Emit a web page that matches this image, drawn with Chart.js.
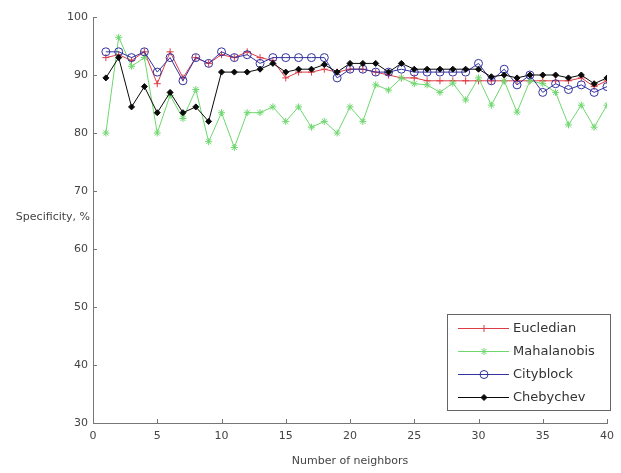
<!DOCTYPE html>
<html>
<head>
<meta charset="utf-8">
<script src="https://cdn.jsdelivr.net/npm/chart.js@4/dist/chart.umd.min.js"></script>
<style>
  html, body { margin: 0; padding: 0; background: #fff; }
  #wrap { width: 621px; height: 473px; }
</style>
</head>
<body>
<div id="wrap"><canvas id="myChart"></canvas></div>
<script>
const neighbors = [1, 2, 3, 4, 5, 6, 7, 8, 9, 10, 11, 12, 13, 14, 15, 16, 17, 18, 19, 20,
    21, 22, 23, 24, 25, 26, 27, 28, 29, 30, 31, 32, 33, 34, 35, 36, 37, 38, 39, 40]

const eucledian = [93, 93.5, 92.5, 94, 88.5, 94, 89.5, 93, 92, 93.5, 93, 94, 93, 92.5, 89.5, 90.5, 90.5, 91, 90.5, 91,
    91, 90.5, 90, 89.5, 89.5, 89, 89, 89, 89, 89, 89, 89, 89, 89, 89, 89, 89, 89.5, 88, 89]
const mahalanobis = [80, 96.5, 91.5, 93, 80, 86.5, 82.5, 87.5, 78.5, 83.5, 77.5, 83.5, 83.5, 84.5, 82, 84.5, 81, 82, 80, 84.5,
    82, 88.3, 87.4, 89.5, 88.5, 88.3, 87, 88.6, 85.7, 89.5, 84.8, 89, 83.6, 89, 88.5, 87, 81.4, 84.8, 81, 84.8]
const cityblock = [94, 94, 93, 94, 90.5, 93, 89, 93, 92, 94, 93, 93.5, 92, 93, 93, 93, 93, 93, 89.5, 91,
    91, 90.5, 90.5, 91, 90.5, 90.5, 90.5, 90.5, 90.5, 92, 89, 91, 88.3, 90, 87, 88.5, 87.5, 88.3, 87, 88]
const chebychev = [89.5, 93, 84.5, 88, 83.5, 87, 83.5, 84.5, 82, 90.5, 90.5, 90.5, 91, 92, 90.5, 91, 91, 91.8, 90.5, 92,
    92, 92, 90.5, 92, 91, 91, 91, 91, 91, 91, 89.7, 90, 89.5, 90, 90, 90, 89.5, 90, 88.5, 89.5]

const xTicks = [0, 5, 10, 15, 20, 25, 30, 35, 40]
const yTicks = [30, 40, 50, 60, 70, 80, 90, 100]

function punten(waarden) {
    return neighbors.map(function (n, i) {
        return { x: n, y: waarden[i] }
    })
}

const data = {
    datasets: [{
        label: "Eucledian",
        data: punten(eucledian),
        borderColor: 'rgb(220, 60, 70)',
        backgroundColor: 'rgb(220, 60, 70)',
        pointStyle: 'cross',
        pointRadius: 3.5,
        order: 4
    }, {
        label: "Mahalanobis",
        data: punten(mahalanobis),
        borderColor: 'rgb(110, 215, 110)',
        backgroundColor: 'rgb(110, 215, 110)',
        pointStyle: 'star',
        pointRadius: 3.5,
        order: 3
    }, {
        label: "Cityblock",
        data: punten(cityblock),
        borderColor: 'rgb(50, 50, 160)',
        backgroundColor: 'rgba(0, 0, 0, 0)',
        pointStyle: 'circle',
        pointRadius: 4,
        order: 2
    }, {
        label: "Chebychev",
        data: punten(chebychev),
        borderColor: 'rgb(10, 10, 10)',
        backgroundColor: 'rgb(10, 10, 10)',
        pointStyle: 'rectRot',
        pointRadius: 3,
        order: 1
    }]
}

// ylabel horizontaal, ticks naar binnen en de legenda in het plotvlak
const extraTekenen = {
    id: 'extraTekenen',
    afterDraw: function (chart) {
        const ctx = chart.ctx
        const xs = chart.scales.x
        const ys = chart.scales.y
        const area = chart.chartArea
        ctx.save()
        ctx.strokeStyle = '#777'
        ctx.lineWidth = 1
        ctx.beginPath()
        xTicks.forEach(function (t) {
            const px = Math.round(xs.getPixelForValue(t)) + 0.5
            ctx.moveTo(px, area.bottom)
            ctx.lineTo(px, area.bottom - 4)
        })
        yTicks.forEach(function (t) {
            const py = Math.round(ys.getPixelForValue(t)) + 0.5
            ctx.moveTo(area.left, py)
            ctx.lineTo(area.left + 4, py)
        })
        ctx.stroke()

        ctx.fillStyle = '#444'
        ctx.font = '11px "DejaVu Sans"'
        ctx.textAlign = 'right'
        ctx.textBaseline = 'middle'
        ctx.fillText('Specificity, %', 90, ys.getPixelForValue(65.5))

        // legenda
        const lx = 447, ly = 314, lw = 163, lh = 96
        ctx.fillStyle = '#fff'
        ctx.fillRect(lx, ly, lw, lh)
        ctx.strokeStyle = '#666'
        ctx.strokeRect(lx + 0.5, ly + 0.5, lw, lh)
        ctx.font = '13px "DejaVu Sans"'
        ctx.textAlign = 'left'
        chart.data.datasets.forEach(function (ds, i) {
            const y = ly + 14 + i * 23
            ctx.strokeStyle = ds.borderColor
            ctx.lineWidth = 1
            ctx.beginPath()
            ctx.moveTo(lx + 11, y + 0.5)
            ctx.lineTo(lx + 62, y + 0.5)
            ctx.stroke()
            ctx.fillStyle = ds.backgroundColor
            Chart.helpers.drawPoint(ctx, {
                pointStyle: ds.pointStyle,
                radius: ds.pointRadius,
                rotation: 0,
                borderWidth: 1
            }, lx + 37, y + 0.5)
            ctx.fillStyle = '#333'
            ctx.fillText(ds.label, lx + 66, y + 1)
        })
        ctx.restore()
    }
}

const config = {
    type: 'line',
    data: data,
    options: {
        responsive: true,
        maintainAspectRatio: false,
        animation: false,
        layout: { padding: { left: 0, top: 17, right: 7, bottom: 0 } },
        elements: {
            line: { borderWidth: 1, tension: 0 },
            point: { borderWidth: 1, hoverRadius: 4 }
        },
        plugins: {
            legend: { display: false },
            tooltip: { enabled: false }
        },
        scales: {
            x: {
                type: 'linear',
                min: 0,
                max: 40,
                afterBuildTicks: function (scale) {
                    scale.ticks = xTicks.map(function (v) { return { value: v } })
                },
                afterFit: function (scale) { scale.height = 50 },
                grid: { drawOnChartArea: false, drawTicks: false },
                border: { color: '#777' },
                ticks: { color: '#444', padding: 7, font: { family: 'DejaVu Sans', size: 11 } },
                title: {
                    display: true,
                    text: 'Number of neighbors',
                    color: '#444',
                    font: { family: 'DejaVu Sans', size: 11 },
                    padding: { top: 4, bottom: 5 }
                }
            },
            y: {
                min: 30,
                max: 100,
                afterBuildTicks: function (scale) {
                    scale.ticks = yTicks.map(function (v) { return { value: v } })
                },
                afterFit: function (scale) { scale.width = 93 },
                grid: { drawOnChartArea: false, drawTicks: false },
                border: { color: '#777' },
                ticks: { color: '#444', padding: 5, font: { family: 'DejaVu Sans', size: 11 } }
            }
        }
    },
    plugins: [extraTekenen]
}

const myChart = new Chart(
    document.getElementById("myChart"),
    config
)
</script>
</body>
</html>
